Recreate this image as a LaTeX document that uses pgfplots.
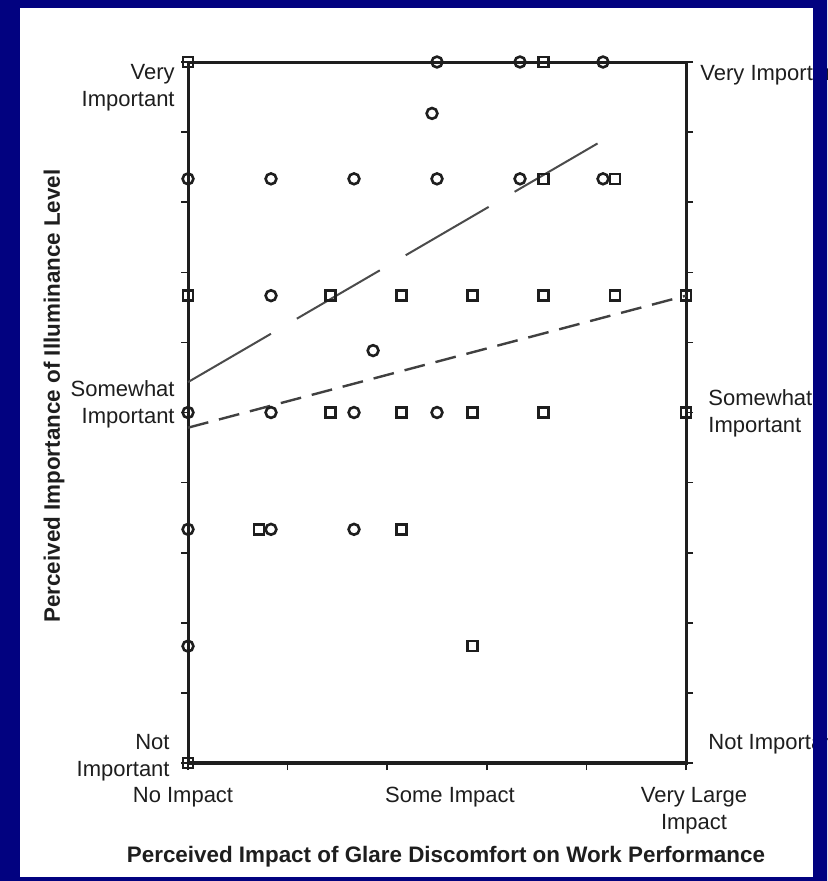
\documentclass[border=0pt]{standalone}
\usepackage{fontspec}
\setmainfont{Liberation Sans}
\usepackage{pgfplots}
\pgfplotsset{compat=1.18}
\definecolor{navyc}{RGB}{2,2,128}
\definecolor{ink}{RGB}{30,30,30}
\begin{document}
\begin{tikzpicture}
\path[use as bounding box] (-94pt,-59pt) rectangle (319.5pt,381.5pt);
\clip (-94pt,-59pt) rectangle (319.5pt,381.5pt);
\fill[white] (-94pt,-59pt) rectangle (319.5pt,381.5pt);
\begin{axis}[
  at={(0pt,0pt)}, anchor=south west,
  scale only axis, width=249pt, height=350.5pt,
  xmin=0, xmax=6, ymin=0, ymax=6,
  clip=false,
  axis line style={ink, line width=1.5pt},
  xtick={0,1.2,2.4,3.6,4.8,6}, xticklabels={},
  ytick={0,0.6,1.2,1.8,2.4,3,3.6,4.2,4.8,5.4,6}, yticklabels={},
  xtick pos=bottom, ytick pos=both,
  tick align=outside, major tick length=3.5pt,
  tick style={ink, line width=0.8pt},
]
\addplot[ink!80, line width=1pt, dash pattern=on 48pt off 15pt] coordinates {(0,3.26) (5,5.33)};
\addplot[ink!85, line width=1.2pt, dash pattern=on 10.5pt off 5.5pt] coordinates {(0,2.87) (6,4.0)};
\addplot[only marks, mark=o, mark size=2.7pt, mark options={ink, fill=white, line width=1.3pt}] table {
x y
3 6
4 6
5 6
2.94 5.56
0 5
1 5
2 5
3 5
4 5
5 5
1 4
2.23 3.53
0 3
1 3
2 3
3 3
0 2
1 2
2 2
0 1
};
\addplot[only marks, mark=square, mark size=2.5pt, mark options={ink, fill=white, line width=1.3pt}] table {
x y
0 6
4.286 6
4.286 5
5.143 5
0 4
1.714 4
2.571 4
3.429 4
4.286 4
5.143 4
6 4
1.714 3
2.571 3
3.429 3
4.286 3
6 3
0.857 2
2.571 2
3.429 1
0 0
};
\end{axis}
\begin{scope}[every node/.style={inner sep=0pt, text=ink, font=\fontsize{11}{13.5}\selectfont}]
\node[anchor=east, align=right] at (-6.5pt,337.5pt) {Very\\Important};
\node[anchor=east, align=right] at (-6.5pt,179.5pt) {Somewhat\\Important};
\node[anchor=east, align=right] at (-9pt,2.5pt) {Not\\Important};
\node[anchor=west] at (256pt,344pt) {Very Important};
\node[anchor=west, align=left] at (260pt,175pt) {Somewhat\\Important};
\node[anchor=west] at (260pt,9.5pt) {Not Important};
\node at (-2.5pt,-17pt) {No Impact};
\node at (131pt,-17pt) {Some Impact};
\node[align=center] at (253pt,-24pt) {Very Large\\Impact};
\node[font=\fontsize{11.2}{13.5}\selectfont\bfseries] at (129pt,-47pt) {Perceived Impact of Glare Discomfort on Work Performance};
\node[rotate=90, font=\fontsize{11.2}{13.5}\selectfont\bfseries] at (-67pt,183.5pt) {Perceived Importance of Illuminance Level};
\end{scope}
\fill[navyc, even odd rule] (-94pt,-59pt) rectangle (319.5pt,381.5pt) (-84pt,-57pt) rectangle (312.5pt,377.5pt);
\end{tikzpicture}
\end{document}
